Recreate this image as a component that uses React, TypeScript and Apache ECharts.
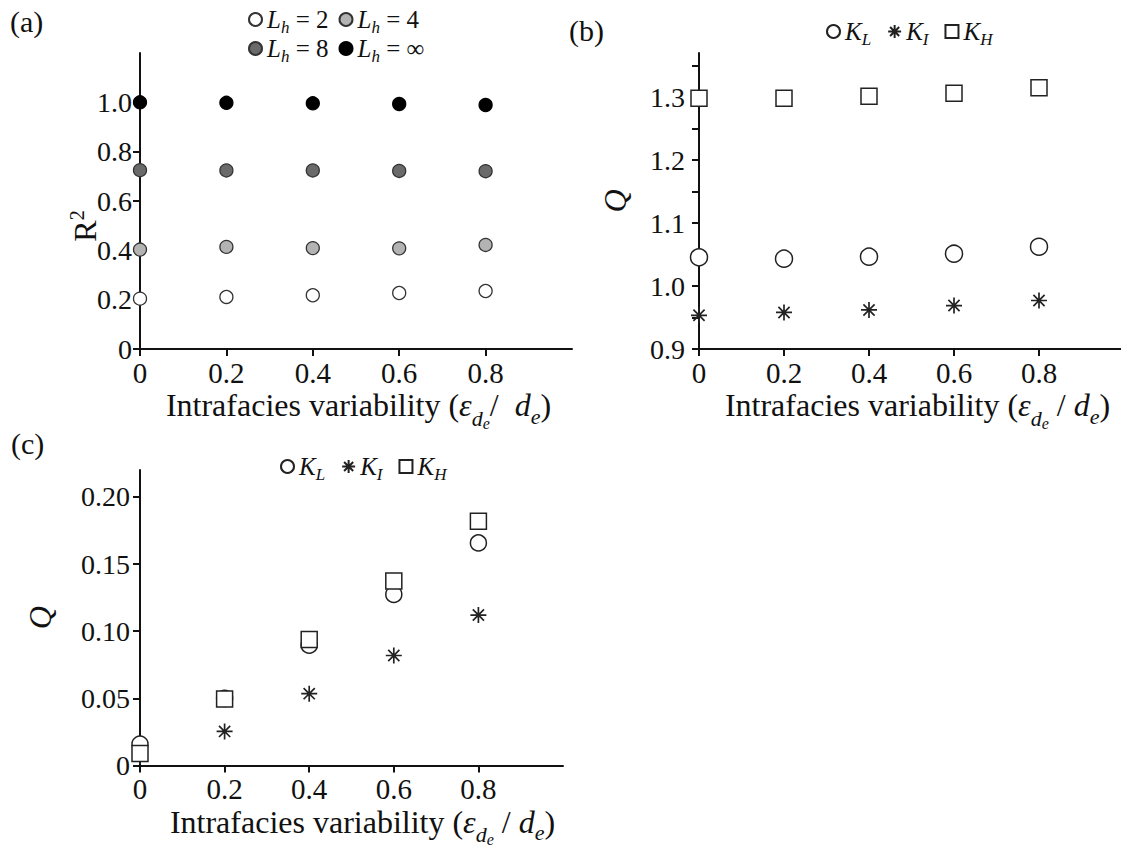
import React, { useEffect, useRef } from 'react';
import * as echarts from 'echarts';

// ---------- data ----------
const xValues = [0, 0.2, 0.4, 0.6, 0.8];
const xTickValues = [0, 0.2, 0.4, 0.6, 0.8];

// Panel (a): R² for different L_h
const r2Lh2 = [0.204, 0.211, 0.218, 0.227, 0.235];
const r2Lh4 = [0.403, 0.414, 0.409, 0.408, 0.422];
const r2Lh8 = [0.725, 0.724, 0.724, 0.722, 0.721];
const r2LhInf = [1.0, 0.998, 0.996, 0.993, 0.989];
const aYTicks = [0, 0.2, 0.4, 0.6, 0.8, 1.0];

// Panel (b): Q
const qbKL = [1.0456, 1.0434, 1.0466, 1.0513, 1.0624];
const qbKI = [0.9535, 0.958, 0.962, 0.969, 0.977];
const qbKH = [1.298, 1.298, 1.3015, 1.306, 1.315];
const bYLabels = [0.9, 1.0, 1.1, 1.2, 1.3];
const bYTicks = [0.9, 0.95, 1.0, 1.05, 1.1, 1.15, 1.2, 1.25, 1.3, 1.35];

// Panel (c): Q
const qcKL = [0.016, 0.05, 0.0896, 0.1274, 0.1657];
const qcKI = [0.007, 0.0254, 0.0535, 0.0819, 0.112];
const qcKH = [0.009, 0.0495, 0.0938, 0.1373, 0.1819];
const cYTicks = [0, 0.05, 0.1, 0.15, 0.2];

// ---------- styles ----------
const serif = "'Liberation Serif', 'Times New Roman', serif";
const ink = '#111';
const asteriskPath = 'path://M10,0 L10,20 M0,10 L20,10 M3,3 L17,17 M3,17 L17,3';

const legendText: Record<string, string> = {
  L2: '{i|L}{s|h}{n| = 2}',
  L4: '{i|L}{s|h}{n| = 4}',
  L8: '{i|L}{s|h}{n| = 8}',
  Linf: '{i|L}{s|h}{n| = ∞}',
  KL_b: '{i|K}{s|L}',
  KI_b: '{i|K}{s|I}',
  KH_b: '{i|K}{s|H}',
  KL_c: '{i|K}{s|L}',
  KI_c: '{i|K}{s|I}',
  KH_c: '{i|K}{s|H}',
};

const legendRich = {
  n: { fontFamily: serif, fontSize: 25, color: ink, lineHeight: 30 },
  i: { fontFamily: serif, fontSize: 25, color: ink, fontStyle: 'italic', lineHeight: 30 },
  s: { fontFamily: serif, fontSize: 17, color: ink, fontStyle: 'italic', lineHeight: 10, padding: [16, 0, 0, 0] },
};

const nameRich = {
  n: { fontFamily: serif, fontSize: 32, color: ink, lineHeight: 36 },
  i: { fontFamily: serif, fontSize: 32, color: ink, fontStyle: 'italic', lineHeight: 36 },
  s: { fontFamily: serif, fontSize: 22, color: ink, fontStyle: 'italic', lineHeight: 10, padding: [26, 0, 0, 0] },
  ss: { fontFamily: serif, fontSize: 16, color: ink, fontStyle: 'italic', lineHeight: 10, padding: [36, 0, 0, 0] },
  s2: { fontFamily: serif, fontSize: 22, color: ink, fontStyle: 'italic', lineHeight: 10, padding: [22, 0, 0, 0] },
  sup: { fontFamily: serif, fontSize: 20, color: ink, lineHeight: 10, padding: [0, 0, 16, 0] },
  q: { fontFamily: serif, fontSize: 32, color: ink, fontStyle: 'italic', lineHeight: 36 },
};

const xNameA = '{n|Intrafacies variability (}{i|ε}{s|d}{ss|e}{n|/  }{i|d}{s2|e}{n|)}';
const xNameBC = '{n|Intrafacies variability (}{i|ε}{s|d}{ss|e}{n| / }{i|d}{s2|e}{n|)}';

const axisLineStyle = { color: ink, width: 2 };

function makeXAxis(gridIndex: number, name: string, shift: number, gap: number) {
  return {
    type: 'value',
    gridIndex,
    min: 0,
    max: 1,
    interval: 0.2,
    axisLine: { show: true, onZero: false, lineStyle: axisLineStyle },
    axisTick: { show: true, inside: false, length: 7, lineStyle: { color: ink, width: 2 }, customValues: xTickValues },
    axisLabel: {
      customValues: xTickValues,
      formatter: (v: number) => (v === 0 ? '0' : v.toFixed(1)),
      fontFamily: serif,
      fontSize: 29,
      color: ink,
      margin: 10,
      lineHeight: 27,
    },
    splitLine: { show: false },
    name,
    nameLocation: 'middle',
    nameGap: gap,
    nameMoveOverlap: false,
    nameTextStyle: { rich: nameRich, padding: [0, 0, 0, shift * 2] },
  };
}

function scatter(name: string, xi: number, values: number[], symbol: string, size: number, color: string, border: string, bw: number) {
  return {
    type: 'scatter',
    name,
    xAxisIndex: xi,
    yAxisIndex: xi,
    data: xValues.map((x, i) => [x, values[i]]),
    symbol,
    symbolSize: size,
    clip: false,
    itemStyle: { color, borderColor: border, borderWidth: bw, opacity: 1 },
    emphasis: { disabled: true },
    z: 5,
  };
}

function makeLegend(data: string[], left: number, top: number, gap: number) {
  return {
    data,
    left,
    top,
    orient: 'horizontal',
    itemWidth: 13,
    itemHeight: 13,
    itemGap: gap,
    padding: 0,
    selectedMode: false,
    formatter: (name: string) => legendText[name] || name,
    textStyle: { fontFamily: serif, fontSize: 25, color: ink, rich: legendRich },
  };
}

export default function App() {
  const ref = useRef<HTMLDivElement>(null);

  useEffect(() => {
    if (!ref.current) return;
    const chart = echarts.init(ref.current, undefined, { renderer: 'svg' });
    const titleStyle = { fontFamily: serif, fontSize: 30, fontWeight: 'normal', color: ink };
    const option = {
      animation: false,
      backgroundColor: '#ffffff',
      title: [
        { text: '(a)', left: 10, top: 6, padding: 0, textStyle: titleStyle },
        { text: '(b)', left: 569, top: 15, padding: 0, textStyle: titleStyle },
        { text: '(c)', left: 11, top: 428, padding: 0, textStyle: titleStyle },
      ],
      legend: [
        makeLegend(['L2', 'L4'], 248, 3, 10),
        makeLegend(['L8', 'Linf'], 248, 32, 10),
        makeLegend(['KL_b', 'KI_b', 'KH_b'], 826, 15, 16),
        makeLegend(['KL_c', 'KI_c', 'KH_c'], 280, 450, 16),
      ],
      grid: [
        { left: 140, top: 53, width: 432, height: 296, outerBoundsMode: 'none', containLabel: false },
        { left: 699, top: 53, width: 425, height: 296, outerBoundsMode: 'none', containLabel: false },
        { left: 140, top: 470, width: 423, height: 295.5, outerBoundsMode: 'none', containLabel: false },
      ],
      xAxis: [makeXAxis(0, xNameA, 2.5, 38), makeXAxis(1, xNameBC, 6, 38), makeXAxis(2, xNameBC, 11, 38)],
      yAxis: [
        {
          type: 'value',
          gridIndex: 0,
          min: 0,
          max: 1.2,
          interval: 0.2,
          axisLine: { show: true, onZero: false, lineStyle: axisLineStyle },
          axisTick: { show: true, length: 7, lineStyle: { color: ink, width: 2 }, customValues: aYTicks },
          axisLabel: {
            customValues: aYTicks,
            formatter: (v: number) => (v === 0 ? '0' : v.toFixed(1)),
            fontFamily: serif,
            fontSize: 28,
            color: ink,
            margin: 8,
          },
          splitLine: { show: false },
          name: '{n|R}{sup|2}',
          nameLocation: 'middle',
          nameRotate: 90,
          nameGap: 37,
          nameMoveOverlap: false,
          nameTextStyle: { rich: nameRich, padding: [0, 50, 0, 0] },
        },
        {
          type: 'value',
          gridIndex: 1,
          min: 0.9,
          max: 1.37,
          interval: 0.05,
          axisLine: { show: true, onZero: false, lineStyle: axisLineStyle },
          axisTick: { show: true, length: 7, lineStyle: { color: ink, width: 2 }, customValues: bYTicks },
          axisLabel: {
            customValues: bYLabels,
            formatter: (v: number) => v.toFixed(1),
            fontFamily: serif,
            fontSize: 28,
            color: ink,
            margin: 14,
          },
          splitLine: { show: false },
          name: '{q|Q}',
          nameLocation: 'middle',
          nameRotate: 90,
          nameGap: 66,
          nameMoveOverlap: false,
          nameTextStyle: { rich: nameRich },
        },
        {
          type: 'value',
          gridIndex: 2,
          min: 0,
          max: 0.22,
          interval: 0.05,
          axisLine: { show: true, onZero: false, lineStyle: axisLineStyle },
          axisTick: { show: true, length: 7, lineStyle: { color: ink, width: 2 }, customValues: cYTicks },
          axisLabel: {
            customValues: cYTicks,
            formatter: (v: number) => (v === 0 ? '0' : v.toFixed(2)),
            fontFamily: serif,
            fontSize: 28,
            color: ink,
            margin: 10,
          },
          splitLine: { show: false },
          name: '{q|Q}',
          nameLocation: 'middle',
          nameRotate: 90,
          nameGap: 82,
          nameMoveOverlap: false,
          nameTextStyle: { rich: nameRich },
        },
      ],
      series: [
        scatter('L2', 0, r2Lh2, 'circle', 13, '#ffffff', '#333', 1.3),
        scatter('L4', 0, r2Lh4, 'circle', 13, '#b3b3b3', '#333', 1.3),
        scatter('L8', 0, r2Lh8, 'circle', 13, '#6a6a6a', '#333', 1.3),
        scatter('Linf', 0, r2LhInf, 'circle', 13, '#000000', '#000', 1.3),
        scatter('KL_b', 1, qbKL, 'circle', 17, '#ffffff', '#222', 1.5),
        scatter('KI_b', 1, qbKI, asteriskPath, 16, '#222', '#222', 1.7),
        scatter('KH_b', 1, qbKH, 'rect', 16, '#ffffff', '#222', 1.5),
        scatter('KL_c', 2, qcKL, 'circle', 16, '#ffffff', '#222', 1.5),
        scatter('KI_c', 2, qcKI, asteriskPath, 16, '#222', '#222', 1.7),
        scatter('KH_c', 2, qcKH, 'rect', 16, '#ffffff', '#222', 1.5),
      ],
    };
    chart.setOption(option as any);
    return () => chart.dispose();
  }, []);

  return (
    <div
      ref={ref}
      style={{ position: 'fixed', left: 0, top: 0, width: 1121, height: 849, background: '#fff' }}
    />
  );
}
